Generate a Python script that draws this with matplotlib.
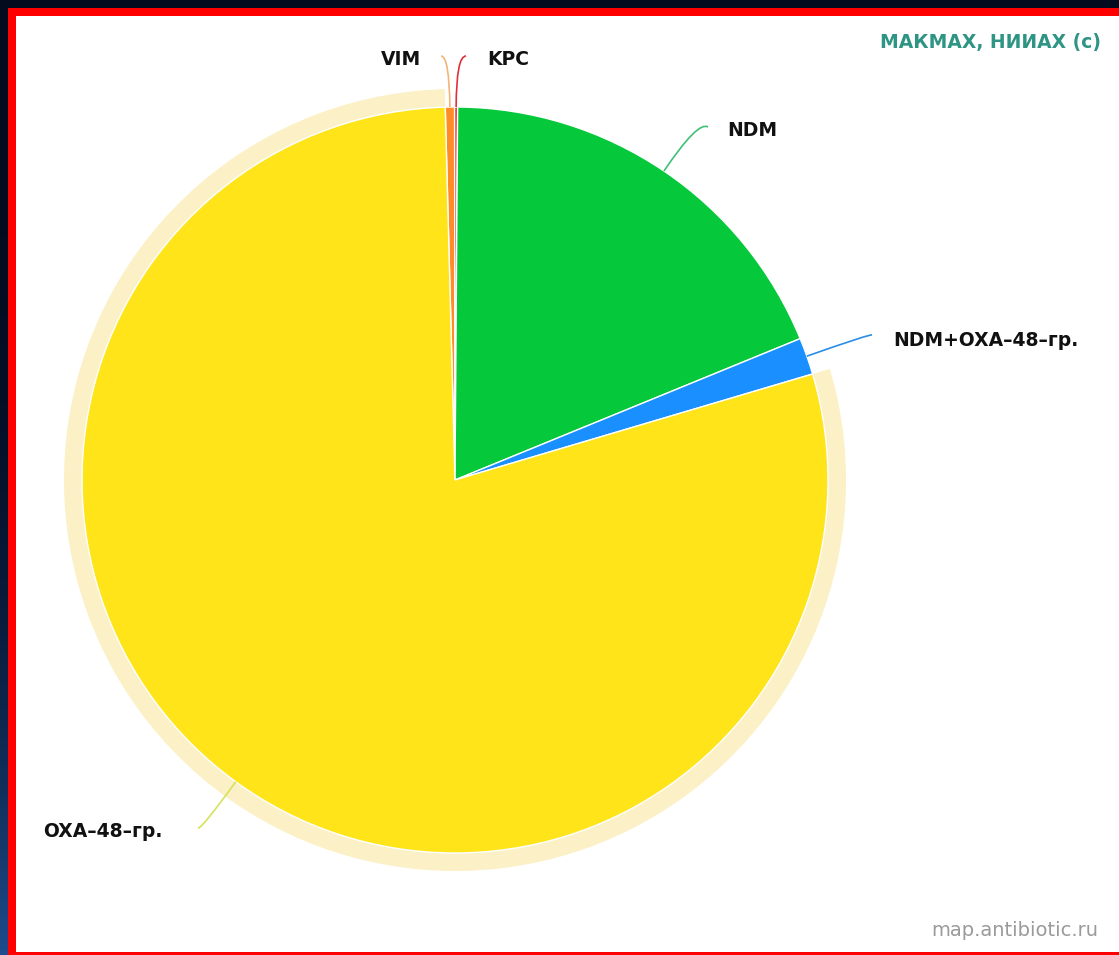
import numpy as np
import matplotlib
matplotlib.use('Agg')
import matplotlib.pyplot as plt
from matplotlib.patches import Rectangle, Wedge, PathPatch
from matplotlib.path import Path

W, H = 1119, 955

# data (share of isolates, %), clockwise from the top
labels = ['VIM', 'KPC', 'NDM', 'NDM+OXA–48–гр.', 'OXA–48–гр.']
shares = [0.4, 0.13, 18.7, 1.6, 79.17]
colors = ['#ff8c26', '#e8262a', '#05c83a', '#1a8fff', '#ffe41a']
line_colors = ['#f2b57a', '#e0303c', '#40bf78', '#2a8ee6', '#d6e25a']

# label layout in pixels (x, y from top, alignment)
label_pos = [(421, 60, 'right'), (487, 60, 'left'), (727, 131, 'left'),
             (893, 341, 'left'), (43, 831, 'left')]
line_end = [(441, 56), (466, 56), (708, 127), (872, 335), (198, 828)]

cx, cy, r = 455, H - 480, 373


def Y(y):
    return H - y


fig = plt.figure(figsize=(W / 100, H / 100), dpi=100)
fig.patch.set_facecolor('#030b1f')
ax = fig.add_axes([0, 0, 1, 1])

wedges, _ = ax.pie(shares, colors=colors, startangle=91.5, counterclock=False,
                   center=(cx, cy), radius=r,
                   wedgeprops=dict(edgecolor='white', linewidth=1, zorder=3))

ax.set_xlim(0, W)
ax.set_ylim(0, H)
ax.set_aspect('auto')
ax.axis('off')

# frame: dark/blue strip, red border, white panel
grad = np.linspace(0, 1, 256)[:, None]
c_top = np.array([3, 11, 31]) / 255
c_bot = np.array([30, 76, 140]) / 255
img = c_top + (c_bot - c_top) * grad[..., None] ** 3
ax.imshow(img, extent=(0, 8, 0, H), aspect='auto', origin='upper', zorder=0)
ax.add_patch(Rectangle((8, 0), W - 8, Y(8), color='#ff0000', zorder=0.5, lw=0))
ax.add_patch(Rectangle((16, Y(952)), W - 16, 952 - 16, color='white', zorder=1, lw=0))

# hover halo around the OXA slice
hw = wedges[-1]
ax.add_patch(Wedge((cx, cy), r + 18, hw.theta1, hw.theta2, width=18,
                   facecolor='#fcf0c6', edgecolor='none', zorder=2))

# connectors and labels
for w, lab, (lx, ly, ha), (ex, ey), lc in zip(wedges, labels, label_pos,
                                              line_end, line_colors):
    th = np.radians((w.theta1 + w.theta2) / 2)
    d = np.array([np.cos(th), np.sin(th)])
    s = np.array([cx, cy]) + d * r
    e = np.array([ex, Y(ey)])
    t = max(np.dot(e - s, d), 0)
    c = s + d * t
    path = Path([s, c, e], [Path.MOVETO, Path.CURVE3, Path.CURVE3])
    ax.add_patch(PathPatch(path, facecolor='none', edgecolor=lc, lw=1.2, zorder=4))
    ax.text(lx, Y(ly), lab, ha=ha, va='center', fontsize=13.5,
            fontweight='bold', color='#111111', zorder=5)

ax.text(1101, Y(43), 'МАКМАХ, НИИАХ (с)', ha='right', va='center',
        fontsize=13.5, fontweight='bold', color='#2e9484', zorder=5)
ax.text(1098, Y(930), 'map.antibiotic.ru', ha='right', va='center',
        fontsize=14, color='#9a9a9a', zorder=5)

fig.savefig('out.png', dpi=100, facecolor=fig.get_facecolor())
